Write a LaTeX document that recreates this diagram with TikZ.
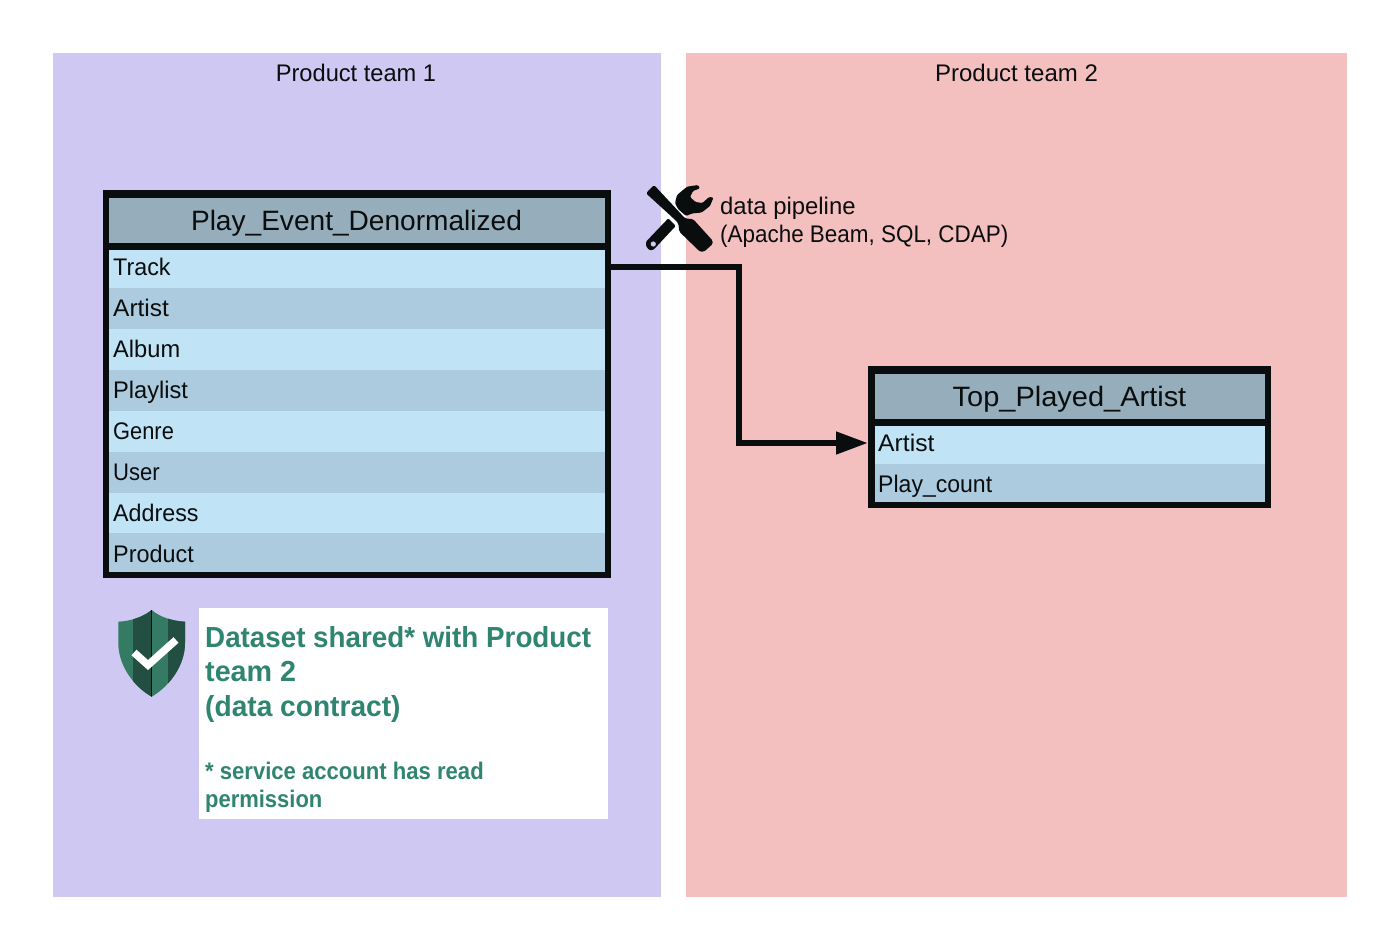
\documentclass[tikz,border=0pt]{standalone}
\usepackage{fontspec}
\setmainfont{Liberation Sans}
\usetikzlibrary{arrows.meta}
\definecolor{panelA}{HTML}{CFC8F3}
\definecolor{panelB}{HTML}{F4BFBF}
\definecolor{rowlight}{HTML}{C0E4F6}
\definecolor{rowdark}{HTML}{ADCBDE}
\definecolor{headfill}{HTML}{96AEBB}
\definecolor{ink}{HTML}{0A0D0E}
\definecolor{contract}{HTML}{2F8570}
\definecolor{shieldA}{HTML}{357A63}
\definecolor{shieldB}{HTML}{234F42}
\newcommand{\fsz}[1]{\fontsize{#1}{#1}\selectfont}
\newcommand{\sx}[2]{\scalebox{#1}[1]{#2}}
\tikzset{
  x=1pt,y=-1pt,
  panel/.style={draw=none,anchor=north west,inner sep=0pt},
  tablebox/.style={fill=ink,anchor=north west,inner sep=0pt},
  head/.style={fill=headfill,anchor=north west,inner sep=0pt},
  headtext/.style={font=\fsz{28},text=ink,anchor=base,inner sep=0pt},
  light/.style={fill=rowlight,anchor=north west,inner sep=0pt},
  dark/.style={fill=rowdark,anchor=north west,inner sep=0pt},
  rowtext/.style={font=\fsz{24},text=ink,anchor=base west,inner sep=0pt},
  caption/.style={font=\fsz{24},text=ink,anchor=base,inner sep=0pt},
  plain/.style={font=\fsz{24},text=ink,anchor=base west,inner sep=0pt},
  flow/.style={draw=ink,line width=6pt},
  big/.style={font=\fsz{29}\bfseries,text=contract,anchor=base west,inner sep=0pt},
  small/.style={font=\fsz{24}\bfseries,text=contract,anchor=base west,inner sep=0pt},
}
\begin{document}
\begin{tikzpicture}
\useasboundingbox (0,0) rectangle (1400,951);
\fill[white] (0,0) rectangle (1400,951);
\node[panel,fill=panelA,minimum width=608pt,minimum height=844pt] (teamA) at (53,53) {};
\node[panel,fill=panelB,minimum width=661pt,minimum height=844pt] (teamB) at (686,53) {};
\node[caption] (teamAt) at (356,81) {\sx{.985}{Product team 1}};
\node[caption] (teamBt) at (1016.5,81) {\sx{1}{Product team 2}};
% left table
\node[tablebox,minimum width=508pt,minimum height=388pt] (tableA) at (103,190) {};
\node[head,minimum width=496pt,minimum height=45.5pt] (headA) at (109,197.5) {};
\node[light,minimum width=496pt,minimum height=37.5pt] (track) at (109,250) {};
\node[dark,minimum width=496pt,minimum height=41pt] (artistA) at (109,287.5) {};
\node[light,minimum width=496pt,minimum height=41pt] (album) at (109,328.5) {};
\node[dark,minimum width=496pt,minimum height=41pt] (playlist) at (109,369.5) {};
\node[light,minimum width=496pt,minimum height=41pt] (genre) at (109,410.5) {};
\node[dark,minimum width=496pt,minimum height=41pt] (user) at (109,451.5) {};
\node[light,minimum width=496pt,minimum height=40.5pt] (address) at (109,492.5) {};
\node[dark,minimum width=496pt,minimum height=39pt] (product) at (109,533) {};
\node[headtext] (headAt) at (356.5,230) {\sx{1.003}{Play\_Event\_Denormalized}};
\node[rowtext] (trackt) at (113,275) {\sx{.97}{Track}};
\node[rowtext] (artistAt) at (113,316) {\sx{1.02}{Artist}};
\node[rowtext] (albumt) at (113,357) {\sx{.985}{Album}};
\node[rowtext] (playlistt) at (113,398) {\sx{.985}{Playlist}};
\node[rowtext] (genret) at (113,439) {\sx{.91}{Genre}};
\node[rowtext] (usert) at (113,480) {\sx{.92}{User}};
\node[rowtext] (addresst) at (113,521) {\sx{.97}{Address}};
\node[rowtext] (productt) at (113,562) {\sx{.975}{Product}};
% right table
\node[tablebox,minimum width=403pt,minimum height=142pt] (tableB) at (868,366) {};
\node[head,minimum width=390pt,minimum height=45.5pt] (headB) at (875,373.5) {};
\node[light,minimum width=390pt,minimum height=37.5pt] (artistB) at (875,426) {};
\node[dark,minimum width=390pt,minimum height=38.2pt] (playcount) at (875,463.5) {};
\node[headtext] (headBt) at (1069.5,406) {\sx{1.035}{Top\_Played\_Artist}};
\node[rowtext] (artistBt) at (878,451) {\sx{1.03}{Artist}};
\node[rowtext] (playcountt) at (878,492) {\sx{.96}{Play\_count}};
% connector
\coordinate (bend) at (739,267);
\coordinate (entry) at (868,443);
\draw[flow,-{Triangle[length=32pt,width=21.5pt]}] (tableA.east |- bend) -- (bend) |- (entry);
% tool icon
\fill[ink,rounded corners=1.5pt]
 (646,193.3) -- (654,185) -- (676.7,209.3) -- (685,218.3) -- (693.3,219.3) -- (712.7,240.7) -- (712.7,244) -- (704,251.7) -- (700,251.7) -- (679.3,231.7) -- (678.3,223.3) -- (671.7,216.7) -- cycle;
\fill[ink,rounded corners=1.2pt]
 (646,241.7) -- (668.3,218.3) -- (675.7,226) -- (653.3,250) -- (649,250) -- (646,246) -- cycle;
\fill[panelA] (653.3,244) circle (2.6);
\fill[ink,rounded corners=1.2pt]
 (698,185) -- (687,186.7) -- (677,195) -- (675,203.3) -- (678.3,209.3) -- (686,216) -- (692,213.5) -- (701.7,212.5) -- (710,206) -- (713.5,197.5) -- (709,197) -- (702.5,203) -- (695.5,202) -- (690,197) -- (693,191) -- (700,188.3) -- cycle;
\node[plain] (pipe1) at (720,214) {\sx{.995}{data pipeline}};
\node[plain] (pipe2) at (720,242) {\sx{.935}{(Apache Beam, SQL, CDAP)}};
% shield
\fill[shieldA] (151.7,610) .. controls (160,617) and (172,621) .. (185,621.7) -- (185,643) .. controls (185,665) and (170,686) .. (151.7,696.7) .. controls (133,686) and (118.3,665) .. (118.3,643) -- (118.3,621.7) .. controls (131,621) and (143,617) .. (151.7,610) -- cycle;
\begin{scope}
\clip (151.7,610) .. controls (160,617) and (172,621) .. (185,621.7) -- (185,643) .. controls (185,665) and (170,686) .. (151.7,696.7) .. controls (133,686) and (118.3,665) .. (118.3,643) -- (118.3,621.7) .. controls (131,621) and (143,617) .. (151.7,610) -- cycle;
\fill[shieldB] (133.3,600) rectangle (151.7,700);
\fill[shieldB] (168.3,600) rectangle (190,700);
\fill[ink] (151,600) rectangle (152.4,700);
\end{scope}
\draw[white,line width=7.5pt] (134,652.5) -- (148,665) -- (176,640);
% contract text
\node[panel,fill=white,minimum width=409pt,minimum height=211pt] (note) at (199,608) {};
\node[big] (n1) at (205,647.5) {\sx{.958}{Dataset shared* with Product}};
\node[big] (n2) at (205,681.5) {\sx{.99}{team 2}};
\node[big] (n3) at (205,716.5) {\sx{.97}{(data contract)}};
\node[small] (n4) at (205,779) {\sx{.92}{* service account has read}};
\node[small] (n5) at (205,807) {\sx{.915}{permission}};
\end{tikzpicture}
\end{document}
